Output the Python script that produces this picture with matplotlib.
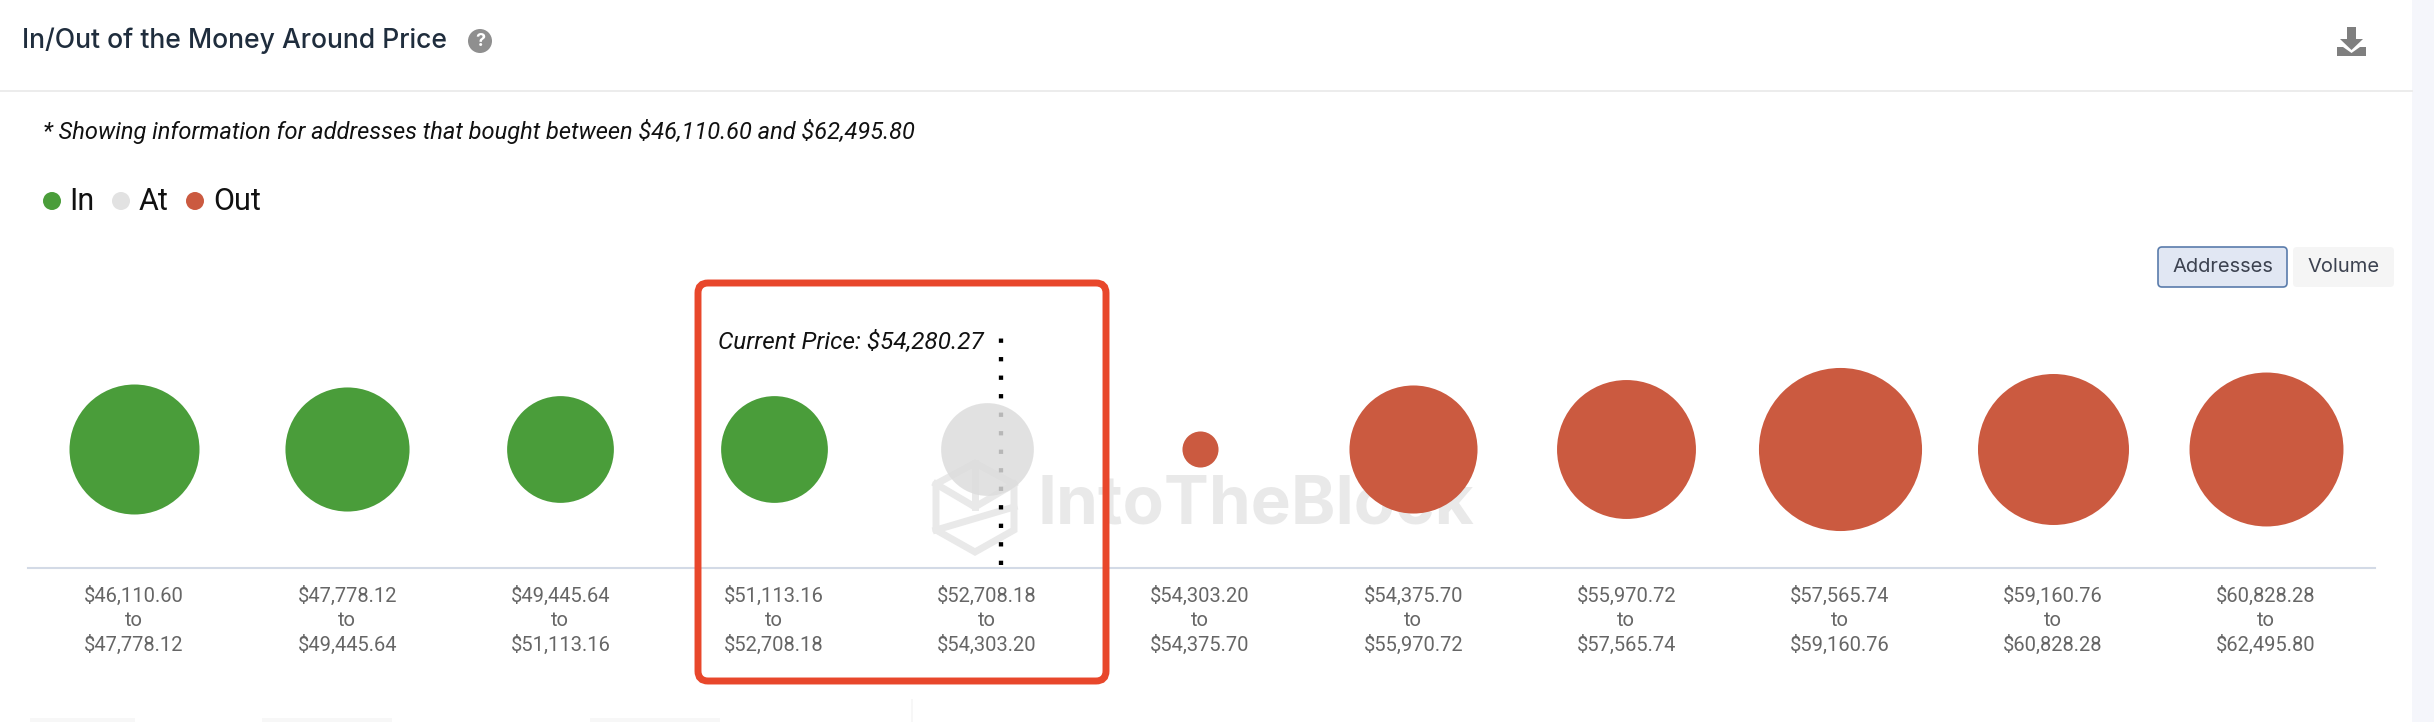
import matplotlib
matplotlib.use('Agg')
import matplotlib.pyplot as plt
from matplotlib.patches import FancyBboxPatch, Circle, Polygon, Rectangle

plt.rcParams['text.parse_math'] = False

# price buckets, in dollars
bin_edges = [46110.60, 47778.12, 49445.64, 51113.16, 52708.18, 54303.20,
             54375.70, 55970.72, 57565.74, 59160.76, 60828.28, 62495.80]
# bubble area per bucket (relative, thousands)
addresses = [16.9, 15.4, 11.4, 11.4, 8.6, 1.3, 16.4, 19.3, 26.6, 22.8, 23.7]
status = ['In', 'In', 'In', 'In', 'At', 'Out', 'Out', 'Out', 'Out', 'Out', 'Out']
current_price = 54280.27

W, H = 2434, 722
DPI = 100
GREEN = '#4a9d3a'
GREY = '#dcdcdc'
RED = '#cb5a40'
colors = {'In': GREEN, 'At': GREY, 'Out': RED}
alphas = {'In': 1, 'At': 0.835, 'Out': 1}

fig = plt.figure(figsize=(W / DPI, H / DPI), dpi=DPI, facecolor='white')


def pixel_axes(zorder):
    a = fig.add_axes([0, 0, 1, 1], zorder=zorder)
    a.set_xlim(0, W)
    a.set_ylim(H, 0)
    a.axis('off')
    a.patch.set_alpha(0)
    return a


back = pixel_axes(0)
front = pixel_axes(2)

# page furniture
back.add_patch(Rectangle((2412, 0), 22, H, fc='#f5f6fb', ec='none'))
back.plot([0, 2412], [91, 91], color='#ececec', lw=1.4)
back.plot([912, 912], [700, H], color='#f7f7f7', lw=1.4)
for x0, x1 in [(30, 135), (262, 392), (590, 720)]:
    back.add_patch(Rectangle((x0, 718), x1 - x0, 4, fc='#f7f7f7', ec='none'))

back.text(22, 41, 'In/Out of the Money Around Price', family='Inter', fontsize=19.1,
          fontweight='medium', color='#1f2d3d', va='center', ha='left')
back.add_patch(Circle((480, 41), 12, fc='#8f8f8f', ec='none'))
back.text(480, 41, '?', family='Inter', fontsize=13, fontweight='bold', color='white',
          ha='center', va='center')

# download icon
icon = '#7f7f7f'
back.add_patch(Polygon([(2347, 27), (2356, 27), (2356, 39), (2363, 39), (2351.5, 50), (2340, 39), (2347, 39)],
                       fc=icon, ec='none'))
back.add_patch(Polygon([(2337, 47), (2343, 47), (2351.5, 53), (2360, 47), (2366, 47), (2366, 56), (2337, 56)],
                       fc=icon, ec='none'))

back.text(43, 132, '* Showing information for addresses that bought between $46,110.60 and $62,495.80',
          family='Roboto', style='italic', fontsize=17, color='#111111', va='center', ha='left')

# legend
for x, tx, name in [(52, 69, 'In'), (121, 139, 'At'), (195, 213, 'Out')]:
    back.add_patch(Circle((x, 201), 9, fc={'At': '#e2e2e2'}.get(name, colors[name]), ec='none'))
    back.text(tx, 201, name, family='Roboto', fontsize=22, color='#111111', va='center', ha='left')

# Addresses / Volume toggle
back.add_patch(FancyBboxPatch((2160, 249), 125, 36, boxstyle='round,pad=2,rounding_size=4',
                              fc='#e1e7f3', ec='#5a7cab', lw=1.2))
back.add_patch(FancyBboxPatch((2295, 249), 97, 36, boxstyle='round,pad=2,rounding_size=4',
                              fc='#f5f5f5', ec='none'))
back.text(2222.5, 267, 'Addresses', family='Inter', fontsize=14.5, color='#3c4250', ha='center', va='center')
back.text(2343.5, 267, 'Volume', family='Inter', fontsize=14.5, color='#3c4250', ha='center', va='center')

# watermark
wm = '#e9e9e9'
back.text(1038, 506, 'IntoTheBlock', family='Inter', fontweight='bold', fontsize=48.5, color=wm,
          ha='left', va='center')
back.add_patch(Polygon([(975, 463), (1014, 484), (1014, 530), (975, 552), (936, 530), (936, 484)],
                       fc='none', ec=wm, lw=5))
back.plot([936, 975, 1014], [484, 507, 484], color=wm, lw=5)
back.plot([975, 975], [463, 507], color=wm, lw=5)
back.plot([936, 1014], [530, 507], color=wm, lw=5)

# chart area: one slot per bucket, bubbles on a common centre line
AX_L, AX_R, AX_B, AX_T = 28, 2375, 568, 300
ax = fig.add_axes([AX_L / W, 1 - AX_B / H, (AX_R - AX_L) / W, (AX_B - AX_T) / H], zorder=1)
ax.patch.set_alpha(0)
SLOT = 213.2
ax.set_xlim((AX_L - 134) / SLOT, (AX_R - 134) / SLOT)
ax.set_ylim(-119, 149)

labels = [f'${a:,.2f}\nto\n${b:,.2f}' for a, b in zip(bin_edges[:-1], bin_edges[1:])]
positions = list(range(len(addresses)))

# current price marker sits just right of the "At" bubble's centre
ax.plot([4.065, 4.065], [-116, 117], color='black', lw=3.1, linestyle=(0, (1, 3.3)), zorder=1)

for i, v, s in zip(positions, addresses, status):
    ax.scatter(i, 0, s=v * 1000 * (72 / DPI) ** 2, color=colors[s], alpha=alphas[s],
               linewidths=0, zorder=2, clip_on=False)

ax.set_xticks(positions)
ax.set_xticklabels(labels, family='Roboto', fontsize=14.5, color='#666666', linespacing=1.31)
ax.tick_params(axis='x', length=0, pad=13)
ax.set_yticks([])
for side in ['top', 'left', 'right']:
    ax.spines[side].set_visible(False)
ax.spines['bottom'].set_color('#d3dae6')
ax.spines['bottom'].set_linewidth(1.5)

ax.text(3.988, 107, f'Current Price: ${current_price:,.2f}', family='Roboto', style='italic',
        fontsize=17.5, color='#111111', ha='right', va='center')

# highlight frame
front.add_patch(FancyBboxPatch((708, 293), 388, 378, boxstyle='round,pad=10,rounding_size=10',
                               fc='none', ec='#e8472b', lw=5))

fig.savefig('out.png', dpi=DPI)
